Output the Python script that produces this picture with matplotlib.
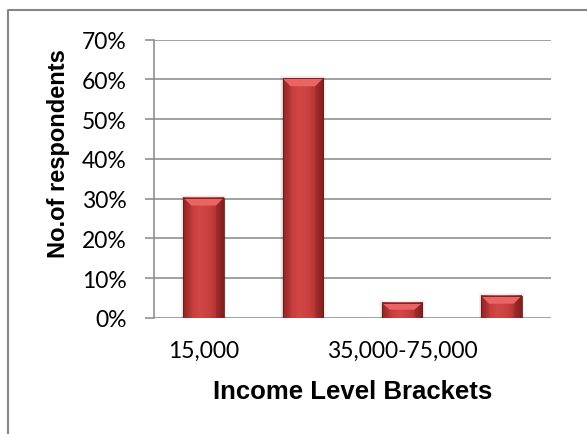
import numpy as np
import matplotlib.pyplot as plt
from matplotlib.colors import LinearSegmentedColormap
from matplotlib.patches import Polygon, Rectangle
from matplotlib.lines import Line2D

# income brackets (only every other label is shown on the axis)
categories = ["15,000", "", "35,000-75,000", ""]
shares = [30.3, 60.3, 3.8, 5.6]   # % of respondents
yticks = [0, 10, 20, 30, 40, 50, 60, 70]

W, H = 587, 435
fig = plt.figure(figsize=(W / 100, H / 100), dpi=100)
ax = fig.add_axes([154 / W, 1 - 319 / H, (551 - 154) / W, (319 - 40.7) / H])

grid_col = "#888888"
tick_font = "Lato"

x = np.arange(len(shares))
bar_w = 0.41

ax.set_xlim(-0.5, len(shares) - 0.5)
ax.set_ylim(0, 70)
ax.set_yticks(yticks)
ax.set_yticklabels([f"{v}%" for v in yticks], fontsize=16.5, family=tick_font)
ax.set_xticks(x)
ax.set_xticklabels(categories, fontsize=16.5, family=tick_font)
ax.tick_params(axis="x", length=0, pad=16)
ax.tick_params(axis="y", length=6.5, width=1.1, color=grid_col, pad=13)
ax.grid(axis="y", color=grid_col, linewidth=1.1, zorder=0)
ax.set_axisbelow(True)
for s in ["top", "right", "bottom"]:
    ax.spines[s].set_visible(False)
ax.spines["left"].set_color(grid_col)
ax.spines["left"].set_linewidth(1.1)

# bevelled red bars: horizontal shading, light top face, soft shadow
shade = LinearSegmentedColormap.from_list(
    "bar", ["#952626", "#c43d3d", "#d24646", "#cc4242", "#b83636", "#8a2222"])
grad = np.linspace(0, 1, 64).reshape(1, -1)
px_x = (551 - 154) / 4.0          # pixels per category
px_y = (319 - 40.7) / 70.0        # pixels per percent
for xi, val in zip(x, shares):
    x0, x1 = xi - bar_w / 2, xi + bar_w / 2
    for k in range(4, 0, -1):
        ax.add_patch(Rectangle((x0 - k * 0.6 / px_x, 0), bar_w + 2 * k * 0.6 / px_x,
                               val + k * 0.6 / px_y, facecolor="#000000",
                               edgecolor="none", alpha=0.03, zorder=2))
    ax.imshow(grad, cmap=shade, extent=(x0, x1, 0, val), aspect="auto",
              interpolation="bicubic", zorder=3)
    bev = min(8 / px_y, val * 0.45)
    dx = 8 / px_x
    ax.add_patch(Polygon([(x0, val), (x1, val), (x1 - dx, val - bev), (x0 + dx, val - bev)],
                         closed=True, facecolor="#ea6464", edgecolor="none", zorder=4))
    ax.add_patch(Polygon([(x0, val), (x0 + dx, val - bev), (x0 + dx, 0), (x0, 0)],
                         closed=True, facecolor="#8c2020", edgecolor="none", alpha=0.15, zorder=4))
    ax.add_patch(Polygon([(x1, val), (x1 - dx, val - bev), (x1 - dx, 0), (x1, 0)],
                         closed=True, facecolor="#5a1010", edgecolor="none", alpha=0.2, zorder=4))
    ax.add_patch(Rectangle((x0, 0), bar_w, val, facecolor="none",
                           edgecolor="#701818", linewidth=0.6, zorder=5))

ax.set_xlim(-0.5, len(shares) - 0.5)
ax.set_ylim(0, 70)

fig.text(353 / W, 1 - 392 / H, "Income Level Brackets", ha="center", va="center",
         fontsize=18.5, fontweight="bold", family="Liberation Sans")
fig.text(59 / W, 1 - 154 / H, "No.of respondents", ha="center", va="center",
         rotation=90, fontsize=17, fontweight="bold", family="Liberation Sans")

# chart area frame (top and left edges)
fig.add_artist(Line2D([8 / W, 8 / W, 1.0], [0.0, 1 - 11 / H, 1 - 11 / H],
                      transform=fig.transFigure, color="#868686", linewidth=1.5))

fig.savefig("out.png", dpi=100)
